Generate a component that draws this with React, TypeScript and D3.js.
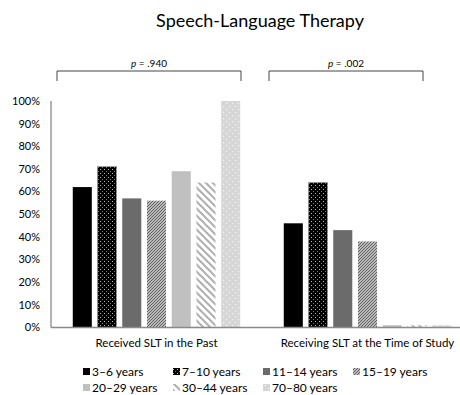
import React from "react";
import * as d3 from "d3";

const categories = ["Received SLT in the Past", "Receiving SLT at the Time of Study"];
const ageGroups = ["3–6 years", "7–10 years", "11–14 years", "15–19 years", "20–29 years", "30–44 years", "70–80 years"];
const pastValues = [62, 71, 57, 56, 69, 64, 100];
const currentValues = [46, 64, 43, 38, 1, 1, 1];
const yTicks = [0, 10, 20, 30, 40, 50, 60, 70, 80, 90, 100];
const pLabels = ["p = .940", "p = .002"];

const fills = [
  "#000000",
  "url(#p710)",
  "#6b6b6b",
  "url(#p1519)",
  "#c0c0c0",
  "url(#p3044)",
  "url(#p7080)",
];

const W = 460;
const H = 395;
const FONT = "Lato, 'Open Sans', sans-serif";

export default function App() {
  const x0 = d3.scaleBand<string>().domain(categories).range([51, 473]).paddingInner(0).paddingOuter(0);
  const x1 = d3
    .scaleBand<string>()
    .domain(ageGroups)
    .range([0, x0.bandwidth()])
    .paddingInner(0.23)
    .paddingOuter(0.88);
  const y = d3.scaleLinear().domain([0, 100]).range([327.5, 101]);
  const series = [pastValues, currentValues];

  return (
    <svg width={W} height={H} style={{ position: "absolute", left: 0, top: 0, background: "#fff" }} fontFamily={FONT}>
      <defs>
        <pattern id="p710" width="4" height="4" patternUnits="userSpaceOnUse">
          <rect width="4" height="4" fill="#000" />
          <rect x="1" y="1" width="1" height="1" fill="#bbb" />
          <rect x="3" y="3" width="1" height="1" fill="#777" />
        </pattern>
        <pattern id="p1519" width="3" height="3" patternUnits="userSpaceOnUse">
          <rect width="3" height="3" fill="#e0e0e0" />
          <path d="M-1,1 L1,-1 M0,3 L3,0 M2,4 L4,2" stroke="#5a5a5a" strokeWidth="1.1" />
        </pattern>
        <pattern id="p3044" width="7" height="7" patternUnits="userSpaceOnUse">
          <rect width="7" height="7" fill="#fff" />
          <path d="M-1,-1 L8,8 M-1,6 L1,8 M6,-1 L8,1" stroke="#b0b0b0" strokeWidth="2" />
        </pattern>
        <pattern id="p7080" width="6" height="6" patternUnits="userSpaceOnUse">
          <rect width="6" height="6" fill="#d6d6d6" />
          <rect x="1" y="1" width="1.2" height="1.2" fill="#f4f4f4" />
          <rect x="4" y="4" width="1.2" height="1.2" fill="#f4f4f4" />
        </pattern>
      </defs>

      <text x={260} y={27} textAnchor="middle" fontSize={18} fill="#000">
        Speech-Language Therapy
      </text>

      {/* significance brackets */}
      {categories.map((c, i) => {
        const left = i === 0 ? 57 : 269;
        const right = i === 0 ? 241 : 423;
        const cx = (left + right) / 2;
        return (
          <g key={c}>
            <path d={`M${left},81 V71 H${right} V81`} fill="none" stroke="#444" strokeWidth={1} />
            <text x={cx} y={67} textAnchor="middle" fontSize={10} fill="#000">
              <tspan fontStyle="italic">p</tspan>
              {pLabels[i].slice(1)}
            </text>
          </g>
        );
      })}

      {/* y axis labels */}
      {yTicks.map((t) => (
        <text key={t} x={40} y={y(t)} dy="0.35em" textAnchor="end" fontSize={11} fill="#000">
          {t}%
        </text>
      ))}

      {/* bars */}
      {categories.map((c, ci) => (
        <g key={c} transform={`translate(${x0(c)},0)`}>
          {ageGroups.map((a, ai) => {
            const v = series[ci][ai];
            return (
              <rect
                key={a}
                x={x1(a)}
                y={y(v)}
                width={x1.bandwidth()}
                height={y(0) - y(v)}
                fill={fills[ai]}
                stroke={ai === 1 ? "#999" : "none"}
                strokeWidth={0.6}
              />
            );
          })}
        </g>
      ))}

      {/* axes */}
      <line x1={51} x2={51} y1={101} y2={y(0)} stroke="#8a8a8a" strokeWidth={1.3} />
      <line x1={51} x2={W} y1={y(0)} y2={y(0)} stroke="#8a8a8a" strokeWidth={1.3} />

      {categories.map((c) => (
        <text key={c} x={(x0(c) as number) + x0.bandwidth() / 2} y={347} textAnchor="middle" fontSize={11.5} fill="#000">
          {c}
        </text>
      ))}

      {/* legend */}
      {ageGroups.map((a, i) => {
        const col = i < 4 ? i : i - 4;
        const row = i < 4 ? 0 : 1;
        const lx = 83 + col * 90;
        const ly = 372 + row * 16;
        return (
          <g key={a}>
            <rect x={lx} y={ly - 4} width={7} height={7} fill={fills[i]} />
            <text x={lx + 9} y={ly} dy="0.35em" fontSize={12} fill="#000">
              {a}
            </text>
          </g>
        );
      })}
    </svg>
  );
}
